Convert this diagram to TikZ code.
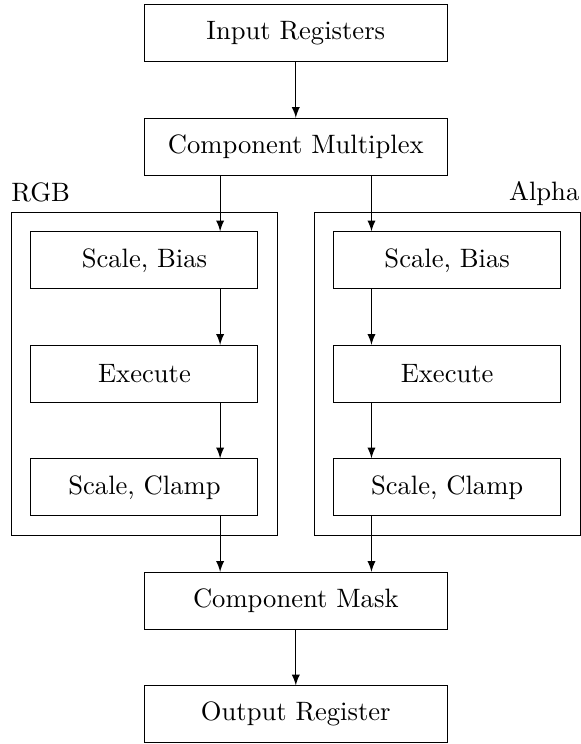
\documentclass[tikz,border=0pt]{standalone}
\usetikzlibrary{fit,calc}
\begin{document}
\begin{tikzpicture}[
  box/.style={draw, minimum width=4cm, minimum height=0.75cm},
  ibox/.style={draw, minimum width=3cm, minimum height=0.75cm},
  grp/.style={draw, inner sep=0.25cm},
  arr/.style={-latex}
]
\useasboundingbox (-3.909,0.439) rectangle (3.756,-9.393);
\node[box] (inp) at (0,0) {Input Registers};
\node[box] (mux) at (0,-1.5) {Component Multiplex};
\node[ibox] (sbL) at (-2,-3) {Scale, Bias};
\node[ibox] (exL) at (-2,-4.5) {Execute};
\node[ibox] (scL) at (-2,-6) {Scale, Clamp};
\node[ibox] (sbR) at (2,-3) {Scale, Bias};
\node[ibox] (exR) at (2,-4.5) {Execute};
\node[ibox] (scR) at (2,-6) {Scale, Clamp};
\node[box] (msk) at (0,-7.5) {Component Mask};
\node[box] (out) at (0,-9) {Output Register};
\node[grp, fit=(sbL)(scL)] (gL) {};
\node[grp, fit=(sbR)(scR)] (gR) {};
\node[anchor=base west, inner sep=0pt, yshift=4pt] (lL) at (gL.north west) {RGB};
\node[anchor=base east, inner sep=0pt, yshift=4.2pt, xshift=-0.3pt] (lR) at (gR.north east) {Alpha};
\coordinate (lx) at (-1,0);
\coordinate (rx) at (1,0);
\draw[arr] (inp) -- (mux);
\draw[arr] (mux.south -| lx) -- (sbL.north -| lx);
\draw[arr] (sbL.south -| lx) -- (exL.north -| lx);
\draw[arr] (exL.south -| lx) -- (scL.north -| lx);
\draw[arr] (scL.south -| lx) -- (msk.north -| lx);
\draw[arr] (mux.south -| rx) -- (sbR.north -| rx);
\draw[arr] (sbR.south -| rx) -- (exR.north -| rx);
\draw[arr] (exR.south -| rx) -- (scR.north -| rx);
\draw[arr] (scR.south -| rx) -- (msk.north -| rx);
\draw[arr] (msk) -- (out);
\end{tikzpicture}
\end{document}
